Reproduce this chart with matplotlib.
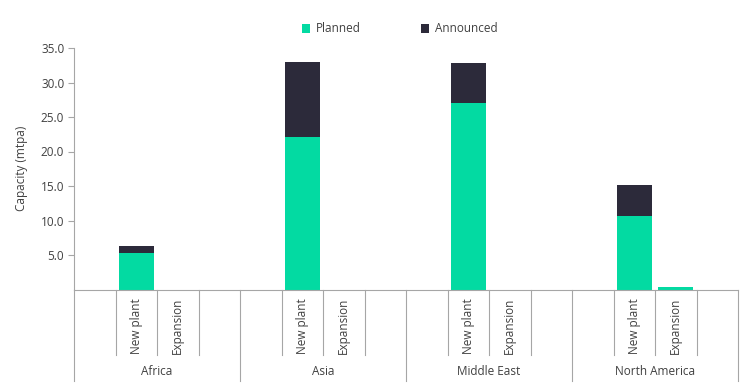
import matplotlib.pyplot as plt
import numpy as np

# capacity by region and project type (mtpa)
regions = ["Africa", "Asia", "Middle East", "North America"]
slot_labels = ["", "New plant", "Expansion", ""]
planned_new = [5.25, 22.1, 27.0, 10.65]
announced_new = [1.05, 10.9, 5.8, 4.5]
planned_exp = [0.0, 0.0, 0.0, 0.3]
announced_exp = [0.0, 0.0, 0.0, 0.0]

green = "#03DAA2"
dark = "#2C2A3A"
grey = "#A6A6A6"
txt = "#404040"

plt.rcParams['font.family'] = ['Open Sans', 'DejaVu Sans']

n_slots = len(slot_labels)
planned = np.zeros(len(regions) * n_slots)
announced = np.zeros(len(regions) * n_slots)
for i in range(len(regions)):
    planned[i * n_slots + 1] = planned_new[i]
    announced[i * n_slots + 1] = announced_new[i]
    planned[i * n_slots + 2] = planned_exp[i]
    announced[i * n_slots + 2] = announced_exp[i]
x = np.arange(len(planned))

fig = plt.figure(figsize=(7.49, 3.84), dpi=100)
ax = fig.add_axes([74 / 749, 1 - 289.5 / 384, 664 / 749, 241.5 / 384])

ax.bar(x, planned, width=0.85, color=green, label="Planned")
ax.bar(x, announced, width=0.85, bottom=planned, color=dark, label="Announced")

ax.set_xlim(-0.5, len(x) - 0.5)
ax.set_ylim(0, 35)
ax.set_yticks([5, 10, 15, 20, 25, 30, 35])
ax.set_yticklabels([f"{v:.1f}" for v in [5, 10, 15, 20, 25, 30, 35]])
ax.tick_params(axis='y', length=4, color=grey, labelcolor=txt, labelsize=8.5, pad=3)
ax.set_xticks([])
for s in ["top", "right"]:
    ax.spines[s].set_visible(False)
for s in ["left", "bottom"]:
    ax.spines[s].set_color(grey)
    ax.spines[s].set_linewidth(0.8)
ax.set_ylabel("Capacity (mtpa)", color=txt, fontsize=8.5, labelpad=9)

# two-level category axis
trans = ax.get_xaxis_transform()
for b in range(len(x) + 1):
    xb = b - 0.5
    if b % n_slots == 0:
        ax.plot([xb, xb], [0, -0.38], transform=trans, color=grey, lw=0.8, clip_on=False)
    else:
        ax.plot([xb, xb], [0, -0.273], transform=trans, color=grey, lw=0.8, clip_on=False)
for i, r in enumerate(regions):
    for j, lab in enumerate(slot_labels):
        if lab:
            ax.text(i * n_slots + j, -0.151, lab, transform=trans, rotation=90,
                    ha="center", va="center", fontsize=8.5, color=txt)
    ax.text(i * n_slots + (n_slots - 1) / 2, -0.34, r, transform=trans,
            ha="center", va="center", fontsize=8.5, color=txt)

fig.legend(loc="center", bbox_to_anchor=(400 / 749, 1 - 29 / 384), ncol=2, frameon=False,
           handlelength=0.7, handleheight=0.7, columnspacing=5.1, handletextpad=0.5,
           fontsize=8.5, labelcolor=txt)

fig.savefig("out.png", dpi=100)
